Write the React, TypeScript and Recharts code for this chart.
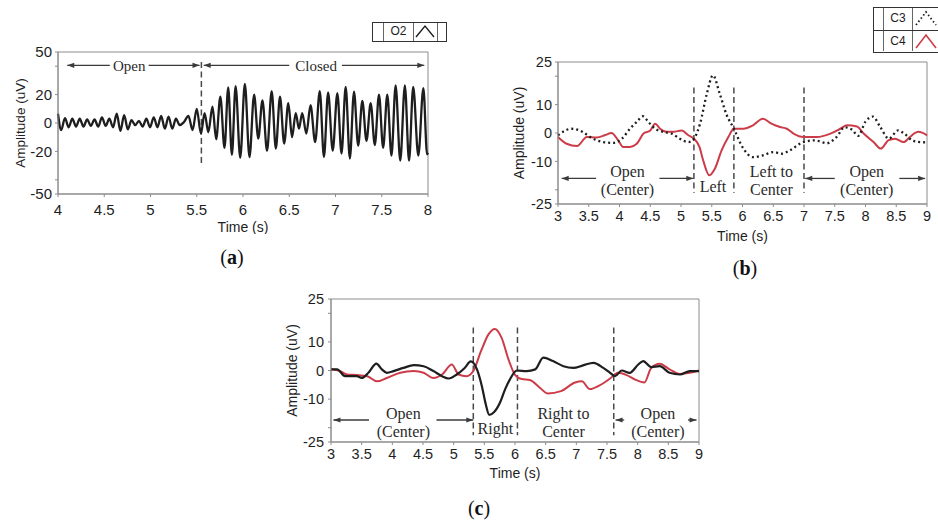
import React from 'react';
import { LineChart, Line, XAxis, YAxis, ReferenceLine, ReferenceArea, ReferenceDot } from 'recharts';

// (a) O2 channel, eyes open -> closed (peaks / troughs)
const aTime = [
  4.0, 4.035, 4.075, 4.115, 4.155, 4.195, 4.235, 4.275, 4.315, 4.355, 4.395, 4.435, 4.475, 4.515,
  4.555, 4.595, 4.635, 4.675, 4.715, 4.755, 4.795, 4.835, 4.875, 4.915, 4.955, 4.995, 5.035, 5.075,
  5.115, 5.155, 5.195, 5.235, 5.275, 5.315,
  5.36, 5.41, 5.455, 5.5, 5.545, 5.585, 5.625, 5.67, 5.71, 5.755, 5.8, 5.84, 5.88, 5.92, 5.97,
  6.02, 6.07, 6.12, 6.165, 6.21, 6.26, 6.31, 6.355, 6.4, 6.445, 6.49, 6.53, 6.57, 6.605, 6.64, 6.685,
  6.73, 6.78, 6.83, 6.875, 6.92, 6.97, 7.02, 7.065, 7.11, 7.155, 7.2, 7.245, 7.29, 7.335, 7.38, 7.425,
  7.47, 7.515, 7.56, 7.605, 7.65, 7.7, 7.75, 7.795, 7.84, 7.895, 7.95, 7.99, 8.0,
];
const aO2 = [
  6.5, -5, 3.5, -3, 3, -2.5, 3, -2.5, 2.5, -2, 2.5, -2.5, 4, -2,
  3, -3, 6.5, -5.5, 5.5, -4.5, 2, -1.5, 1.5, -2.5, 3, -3, 4, -3,
  5, -4, 4.5, -4, 3, -1.5,
  0.5, 5, -5, 10, -7.5, 7, -6.5, 11.5, -11.5, 18.5, -17.5, 25, -22.5, 26, -24.5,
  27.5, -24, 20, -11, 16, -19.5, 22.5, -18, 18.5, -14.5, 14, -10, 7, -4, 7, -7.5,
  12.5, -13.5, 22.5, -24, 21.5, -19.5, 21, -21.5, 25.5, -25, 22, -16, 15.5, -12.5, 14, -15.5,
  20, -17.5, 20, -23, 26.5, -26.5, 26.5, -26.5, 25.5, -23, 24.5, -22, -21,
];

// (b) look left: C3 (dotted) and C4 (red)
const bC3Time = [
  3.0, 3.22, 3.41, 3.52, 3.74, 3.9, 4.04, 4.17, 4.28, 4.38, 4.47, 4.58, 4.71, 4.85, 4.98, 5.12,
  5.21, 5.31, 5.42, 5.52, 5.63, 5.74, 5.86, 6.0, 6.17, 6.33, 6.5, 6.64, 6.77, 6.99, 7.18, 7.37,
  7.53, 7.66, 7.78, 7.88, 8.0, 8.12, 8.24, 8.38, 8.53, 8.63, 8.76, 8.89, 9.0,
];
const bC3Amp = [
  -0.8, 1.5, 0.3, -1.4, -3.2, -3.5, -2, 1.5, 3.9, 5.9, 3.9, 1.5, 0.4, -0.2, -2, -3.2,
  -2, 3.3, 13.8, 20.3, 13.8, 6.5, 1.5, -5, -8.5, -7.9, -6.7, -7.3, -6.1, -3.2, -2.6, -3.6,
  -1.4, 2.0, 1.2, -1.0, 4.0, 5.8, 2.1, -2, 0.9, -0.2, -2.6, -3.2, -3.3,
];
const bC4Time = [
  3.0, 3.14, 3.31, 3.47, 3.63, 3.76, 3.87, 3.98, 4.06, 4.17, 4.28, 4.39, 4.5, 4.58, 4.66, 4.77,
  4.88, 5.01, 5.12, 5.21, 5.3, 5.36, 5.46, 5.55, 5.66, 5.77, 5.86, 6.01, 6.17, 6.33, 6.47, 6.61,
  6.72, 6.83, 6.99, 7.21, 7.43, 7.59, 7.7, 7.86, 7.97, 8.13, 8.25, 8.37, 8.48, 8.62, 8.72, 8.86, 9.0,
];
const bC4Amp = [
  -1.4, -3.8, -4.6, -1.4, -1.6, -0.8, 0, -2.6, -4.9, -4.9, -3.8, -0.2, 0.9, 3.3, 1.5, 0.4,
  0.4, 0.9, -0.8, -2, -4.9, -9.6, -14.9, -12.6, -6.1, -1.4, 1.5, 1.5, 2.7, 5, 3.3, 2.1,
  1.5, -0.2, -1.4, -1.4, -0.2, 1.5, 2.7, 2.3, -0.2, -3.2, -5.5, -2.6, -2, -3.2, -1.4, 0.4, -0.8,
];

// (c) look right: black and red traces
const cBlackTime = [
  3.0, 3.1, 3.23, 3.42, 3.5, 3.61, 3.74, 3.83, 3.91, 4.02, 4.18, 4.35, 4.51, 4.67, 4.81, 4.92,
  5.05, 5.18, 5.28, 5.38, 5.46, 5.52, 5.58, 5.66, 5.76, 5.84, 5.92, 6.03, 6.19, 6.33, 6.46, 6.62,
  6.79, 6.95, 7.11, 7.28, 7.44, 7.55, 7.63, 7.74, 7.87, 8.01, 8.09, 8.22, 8.36, 8.52, 8.69, 8.85, 9.0,
];
const cBlackAmp = [
  0.4, 0.4, -2, -2, -2.6, -0.8, 2.4, 0.4, -0.8, -0.2, 0.9, 1.9, 1.5, -0.2, -2, -2.8,
  -1.4, 0.9, 3.2, 0.4, -5.5, -11.5, -15.5, -14.5, -11, -6.5, -3, 0, -0.2, 0.4, 4.5, 3.3,
  1.5, 0.9, 1.8, 2.7, 0.9, -0.8, -2, 0, -0.8, 2.1, 3.3, 1.2, 1.5, -0.8, -1.4, -0.2, -0.2,
];
const cRedTime = [
  3.0, 3.15, 3.26, 3.42, 3.59, 3.75, 3.91, 4.13, 4.35, 4.51, 4.67, 4.81, 4.97, 5.08, 5.21, 5.32,
  5.45, 5.57, 5.67, 5.78, 5.9, 6.0, 6.11, 6.24, 6.41, 6.53, 6.75, 6.98, 7.09, 7.22, 7.38, 7.55,
  7.68, 7.82, 7.96, 8.11, 8.22, 8.36, 8.52, 8.69, 8.85, 9.0,
];
const cRedAmp = [
  0.4, -0.2, -1.4, -1.6, -2, -3.8, -2.6, -0.8, -0.2, -0.8, -2.6, -1.4, 2.1, -1.4, -2, -0.2,
  7, 12.7, 14.5, 11.5, 3.5, -1.5, -3, -3.3, -6.1, -8, -7.2, -4.2, -3.8, -6.5, -5.2, -2.8,
  -0.8, -1.6, -3.2, -4.2, 0.9, 2.4, 0.4, -1.2, -0.8, 0,
];

const aXTicks = [4, 4.5, 5, 5.5, 6, 6.5, 7, 7.5, 8];
const aYTicks = [-50, -40, -20, 0, 20, 40, 50];
const aYLabels = [-50, -20, 0, 20, 50];
const bcXTicks = [3, 3.5, 4, 4.5, 5, 5.5, 6, 6.5, 7, 7.5, 8, 8.5, 9];
const bcYTicks = [-25, -20, -10, 0, 10, 20, 25];
const bcYLabels = [-25, -10, 0, 10, 25];
const bSeriesNames = ['C3', 'C4'];
const aSeriesName = 'O2';

const SANS = '"Liberation Sans", Arial, Helvetica, sans-serif';
const SERIF = '"Liberation Serif", "Times New Roman", serif';
const AXIS = '#8c8c8c';
const INK = '#1e1e1e';
const RED = '#cc3c48';
const NOTE = '#2b2b2b';
const DASH = '#4a4a4a';

const toPoints = (ts: number[], vs: number[]) => ts.map((t, i) => ({ t, v: vs[i] }));

const aPoints = toPoints(aTime, aO2);
const bC3 = toPoints(bC3Time, bC3Amp);
const bC4 = toPoints(bC4Time, bC4Amp);
const cBlack = toPoints(cBlackTime, cBlackAmp);
const cRed = toPoints(cRedTime, cRedAmp);

// annotation layout, in data units
const aArrows = [
  { from: 4.1, to: 4.56, head: 'start' },
  { from: 4.98, to: 5.53, head: 'end' },
  { from: 5.575, to: 6.5, head: 'start' },
  { from: 7.07, to: 7.96, head: 'end' },
];
const aNotes = [
  { t: 4.77, v: 40, text: 'Open' },
  { t: 6.79, v: 40, text: 'Closed' },
];
const bArrows = [
  { from: 3.06, to: 3.62, head: 'start' },
  { from: 4.65, to: 5.2, head: 'end' },
  { from: 7.02, to: 7.5, head: 'start' },
  { from: 8.55, to: 8.97, head: 'end' },
];
const bNotes = [
  { t: 4.13, v: -13.4, text: 'Open' },
  { t: 4.13, v: -19.8, text: '(Center)' },
  { t: 5.52, v: -19.0, text: 'Left' },
  { t: 6.47, v: -13.4, text: 'Left to' },
  { t: 6.47, v: -19.8, text: 'Center' },
  { t: 8.02, v: -13.4, text: 'Open' },
  { t: 8.02, v: -19.8, text: '(Center)' },
];
const cArrows = [
  { from: 3.04, to: 3.62, head: 'start' },
  { from: 4.72, to: 5.32, head: 'end' },
  { from: 7.64, to: 7.78, head: 'start' },
  { from: 8.82, to: 8.96, head: 'end' },
];
const cNotes = [
  { t: 4.18, v: -14.9, text: 'Open' },
  { t: 4.18, v: -21.3, text: '(Center)' },
  { t: 5.68, v: -20.2, text: 'Right' },
  { t: 6.79, v: -14.9, text: 'Right to' },
  { t: 6.79, v: -21.3, text: 'Center' },
  { t: 8.33, v: -14.9, text: 'Open' },
  { t: 8.33, v: -21.3, text: '(Center)' },
];

function Arrow(props: any) {
  const { x1, y1, x2, y2, head } = props;
  const hx = head === 'start' ? x1 : x2;
  const hy = head === 'start' ? y1 : y2;
  const dir = head === 'start' ? 1 : -1;
  return (
    <g>
      <line x1={x1} y1={y1} x2={x2} y2={y2} stroke="#3a3a3a" strokeWidth={1.3} />
      <path d={`M${hx},${hy} L${hx + dir * 7},${hy - 2.6} L${hx + dir * 7},${hy + 2.6} Z`} fill="#3a3a3a" />
    </g>
  );
}

function renderArrows(list: { from: number; to: number; head: string }[], y: number) {
  return list.map((a, i) => (
    <ReferenceLine
      key={`arrow-${i}`}
      segment={[{ x: a.from, y }, { x: a.to, y }]}
      shape={(p: any) => <Arrow {...p} head={a.head} />}
    />
  ));
}

function renderNotes(list: { t: number; v: number; text: string }[], size: number) {
  return list.map((n, i) => (
    <ReferenceDot
      key={`note-${i}`}
      x={n.t}
      y={n.v}
      r={0}
      shape={(p: any) => (
        <text x={p.cx} y={p.cy} textAnchor="middle" dominantBaseline="central" fontFamily={SERIF} fontSize={size} fill={NOTE}>
          {n.text}
        </text>
      )}
    />
  ));
}

function renderDashed(xs: number[], top: number, bottom: number) {
  return xs.map((x) => (
    <ReferenceLine
      key={`dash-${x}`}
      segment={[{ x, y: top }, { x, y: bottom }]}
      stroke={DASH}
      strokeWidth={1.5}
      strokeDasharray="6 3.5"
    />
  ));
}

const tickStyle = (size: number) => ({ fill: INK, fontSize: size, fontFamily: SANS });

function PanelA() {
  return (
    <div style={{ position: 'absolute', left: 0, top: 40 }}>
      <LineChart width={440} height={194} margin={{ top: 12, right: 12, left: 0, bottom: 0 }}>
        <XAxis
          type="number"
          dataKey="t"
          domain={[4, 8]}
          ticks={aXTicks}
          interval={0}
          height={40}
          stroke={AXIS}
          tickSize={3}
          tickMargin={7}
          tick={tickStyle(15)}
          label={{ value: 'Time (s)', position: 'insideBottom', offset: 2.5, fill: INK, fontSize: 14, fontFamily: SANS }}
        />
        <YAxis
          type="number"
          domain={[-50, 50]}
          ticks={aYTicks}
          interval={0}
          width={58}
          stroke={AXIS}
          tickSize={3}
          tickMargin={3}
          tick={tickStyle(15)}
          tickFormatter={(v: number) => (aYLabels.includes(v) ? String(v) : '')}
          label={{ value: 'Amplitude (uV)', angle: -90, position: 'center', dx: -9, fill: INK, fontSize: 13.5, fontFamily: SANS }}
        />
        <ReferenceArea x1={4} x2={8} y1={-50} y2={50} fill="none" stroke={AXIS} strokeWidth={1} />
        {renderDashed([5.55], 43, -29)}
        {renderArrows(aArrows, 40.6)}
        {renderNotes(aNotes, 15)}
        <Line data={aPoints} dataKey="v" type="monotone" stroke={INK} strokeWidth={2.3} dot={false} isAnimationActive={false} />
      </LineChart>
    </div>
  );
}

function PanelB() {
  return (
    <div style={{ position: 'absolute', left: 490, top: 50 }}>
      <LineChart width={445} height={194} margin={{ top: 12, right: 8, left: 0, bottom: 0 }}>
        <XAxis
          type="number"
          dataKey="t"
          domain={[3, 9]}
          ticks={bcXTicks}
          interval={0}
          height={40}
          stroke={AXIS}
          tickSize={3}
          tickMargin={4}
          tick={tickStyle(14.5)}
          label={{ value: 'Time (s)', position: 'insideBottom', offset: 3, fill: INK, fontSize: 14, fontFamily: SANS }}
        />
        <YAxis
          type="number"
          domain={[-25, 25]}
          ticks={bcYTicks}
          interval={0}
          width={68}
          stroke={AXIS}
          tickSize={3}
          tickMargin={3}
          tick={tickStyle(14.5)}
          tickFormatter={(v: number) => (bcYLabels.includes(v) ? String(v) : '')}
          label={{ value: 'Amplitude (uV)', angle: -90, position: 'center', dx: -5, fill: INK, fontSize: 14, fontFamily: SANS }}
        />
        <ReferenceArea x1={3} x2={9} y1={-25} y2={25} fill="none" stroke={AXIS} strokeWidth={1} />
        {renderDashed([5.21, 5.86, 7.0], 16, -21)}
        {renderArrows(bArrows, -16)}
        {renderNotes(bNotes, 16)}
        <Line data={bC4} dataKey="v" name={bSeriesNames[1]} type="monotone" stroke={RED} strokeWidth={2} dot={false} isAnimationActive={false} />
        <Line data={bC3} dataKey="v" name={bSeriesNames[0]} type="monotone" stroke={INK} strokeWidth={2.3} strokeDasharray="2 3" dot={false} isAnimationActive={false} />
      </LineChart>
    </div>
  );
}

function PanelC() {
  return (
    <div style={{ position: 'absolute', left: 260, top: 290 }}>
      <LineChart width={449} height={192} margin={{ top: 9, right: 10, left: 0, bottom: 0 }}>
        <XAxis
          type="number"
          dataKey="t"
          domain={[3, 9]}
          ticks={bcXTicks}
          interval={0}
          height={40}
          stroke={AXIS}
          tickSize={3}
          tickMargin={4}
          tick={tickStyle(14.5)}
          label={{ value: 'Time (s)', position: 'insideBottom', offset: 4.5, fill: INK, fontSize: 14, fontFamily: SANS }}
        />
        <YAxis
          type="number"
          domain={[-25, 25]}
          ticks={bcYTicks}
          interval={0}
          width={71}
          stroke={AXIS}
          tickSize={3}
          tickMargin={4}
          tick={tickStyle(14.5)}
          tickFormatter={(v: number) => (bcYLabels.includes(v) ? String(v) : '')}
          label={{ value: 'Amplitude (uV)', angle: -90, position: 'center', dx: -3, fill: INK, fontSize: 14, fontFamily: SANS }}
        />
        <ReferenceArea x1={3} x2={9} y1={-25} y2={25} fill="none" stroke={AXIS} strokeWidth={1} />
        {renderDashed([5.32, 6.04, 7.61], 15, -22.6)}
        {renderArrows(cArrows, -17.3)}
        {renderNotes(cNotes, 16)}
        <Line data={cRed} dataKey="v" type="monotone" stroke={RED} strokeWidth={2} dot={false} isAnimationActive={false} />
        <Line data={cBlack} dataKey="v" type="monotone" stroke={INK} strokeWidth={2.2} dot={false} isAnimationActive={false} />
      </LineChart>
    </div>
  );
}

const cellText: React.CSSProperties = {
  fontFamily: SANS,
  fontSize: 12,
  color: INK,
  textAlign: 'center',
  boxSizing: 'border-box',
};

function LegendA() {
  return (
    <div
      style={{
        position: 'absolute', left: 372, top: 22, width: 75, height: 20,
        border: '1.5px solid #333', boxSizing: 'border-box', display: 'flex', background: '#fff',
      }}
    >
      <div style={{ width: 10, borderRight: '1px solid #666' }} />
      <div style={{ ...cellText, width: 30, borderRight: '1px solid #666', lineHeight: '17px' }}>{aSeriesName}</div>
      <div style={{ width: 23, borderRight: '1px solid #666' }}>
        <svg width={22} height={17}>
          <polyline points="2,14 11,3 20,14" fill="none" stroke={INK} strokeWidth={1.4} />
        </svg>
      </div>
    </div>
  );
}

function LegendB() {
  const icons = [
    { color: INK, dash: '1.5 2.5', width: 1.8 },
    { color: RED, dash: undefined, width: 1.6 },
  ];
  return (
    <div
      style={{
        position: 'absolute', left: 873, top: 7, width: 70, height: 46,
        border: '1.5px solid #333', boxSizing: 'border-box', background: '#fff',
      }}
    >
      {bSeriesNames.map((name, i) => (
        <div key={name} style={{ display: 'flex', height: 21.5, borderTop: i ? '1.5px solid #333' : 'none', boxSizing: 'border-box' }}>
          <div style={{ width: 9, borderRight: '1px solid #666' }} />
          <div style={{ ...cellText, width: 29, borderRight: '1px solid #666', lineHeight: '20px' }}>{name}</div>
          <div style={{ width: 28 }}>
            <svg width={28} height={20}>
              <polyline
                points="3,17 13,4 23,17"
                fill="none"
                stroke={icons[i].color}
                strokeWidth={icons[i].width}
                strokeDasharray={icons[i].dash}
              />
            </svg>
          </div>
        </div>
      ))}
    </div>
  );
}

const captionStyle: React.CSSProperties = {
  position: 'absolute',
  fontFamily: SERIF,
  fontSize: 20,
  color: '#111',
  transform: 'translate(-50%, -50%)',
  whiteSpace: 'nowrap',
};

export default function App() {
  return (
    <div style={{ position: 'absolute', left: 0, top: 0, width: 938, height: 524, overflow: 'hidden', background: '#fff' }}>
      <PanelA />
      <PanelB />
      <PanelC />
      <LegendA />
      <LegendB />
      <div style={{ ...captionStyle, left: 232, top: 257 }}>(<b>a</b>)</div>
      <div style={{ ...captionStyle, left: 745, top: 268 }}>(<b>b</b>)</div>
      <div style={{ ...captionStyle, left: 479, top: 508 }}>(<b>c</b>)</div>
    </div>
  );
}
